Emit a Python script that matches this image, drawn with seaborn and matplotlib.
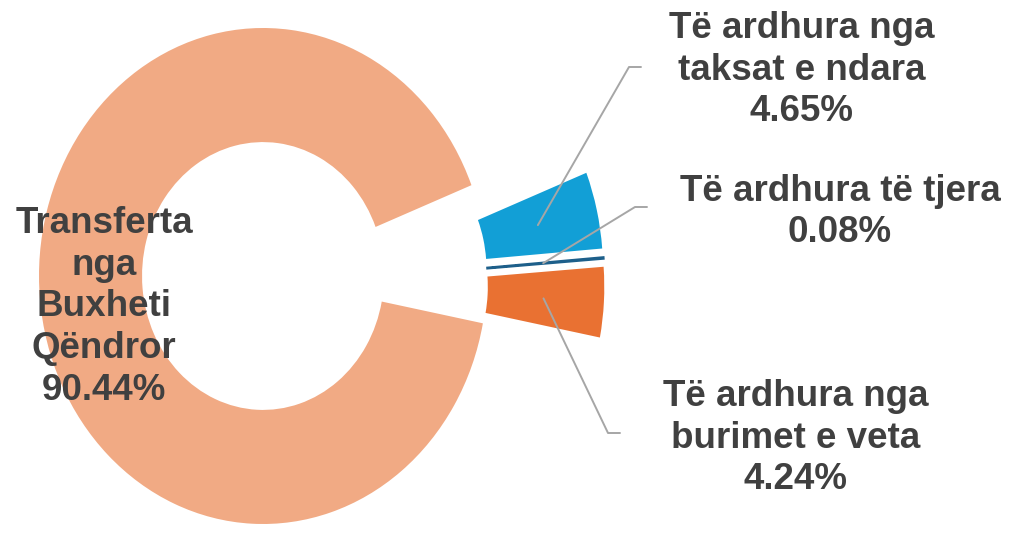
import numpy as np
import matplotlib.pyplot as plt
import seaborn as sns

sns.set_theme(style="white")
plt.rcParams["font.family"] = ["Liberation Sans", "DejaVu Sans"]

categories = ["Transferta\nnga\nBuxheti\nQëndror",
              "Të ardhura nga\ntaksat e ndara",
              "Të ardhura të tjera",
              "Të ardhura nga\nburimet e veta"]
shares = [90.44, 4.65, 0.08, 4.24]
colors = ["#F1AA84", "#129FD6", "#1D5F8A", "#E97132"]

W, H = 1010, 541
CX, CY, RX, RY = 263, 276, 224, 248  # pie centre / radii in pixels
GROUP_SHIFT = (0.214, -0.030)        # extra offset of the pulled-out slices


def px(x, y):
    return (x - CX) / RX, (CY - y) / RY


fig = plt.figure(figsize=(W / 100, H / 100), dpi=100)
ax = fig.add_axes([0, 0, 1, 1])
wedges, _ = ax.pie(shares, colors=colors, startangle=-11, counterclock=False,
                   explode=[0] + [0.24] * (len(shares) - 1),
                   wedgeprops=dict(width=0.46, linewidth=0))
for w in wedges[1:]:
    w.set_center((w.center[0] + GROUP_SHIFT[0], w.center[1] + GROUP_SHIFT[1]))
    w.set_radius(1.07)
    w.set_width(0.52)
# the tiny slice is drawn a little thicker, as in the source
wedges[2].set_edgecolor(colors[2])
wedges[2].set_linewidth(1.6)

ax.set_aspect("auto")
ax.set_xlim(px(0, 0)[0], px(W, 0)[0])
ax.set_ylim(px(0, H)[1], px(0, 0)[1])
ax.axis("off")

txt = dict(ha="center", va="center", fontsize=26.5, fontweight="bold",
           color="#404040", linespacing=1.25)

# big slice label sits on the ring itself
ax.text(*px(104, 307), f"{categories[0]}\n{shares[0]:.2f}%", **txt)

# (label centre, elbow, end of leader) in pixels
layout = {1: ((802, 70), (629, 67), (641, 67)),
          2: ((840, 212), (635, 207), (647, 207)),
          3: ((796, 438), (608, 433), (620, 433))}
for i, (lab, elbow, end) in layout.items():
    w = wedges[i]
    th = np.deg2rad((w.theta1 + w.theta2) / 2)
    x0 = w.center[0] + 0.8 * np.cos(th)
    y0 = w.center[1] + 0.8 * np.sin(th)
    ex, ey = px(*elbow)
    fx, fy = px(*end)
    ax.plot([x0, ex, fx], [y0, ey, fy], color="#A6A6A6", lw=1.4)
    ax.text(*px(*lab), f"{categories[i]}\n{shares[i]:.2f}%", **txt)

fig.savefig("out.png", dpi=100)
plt.close(fig)
